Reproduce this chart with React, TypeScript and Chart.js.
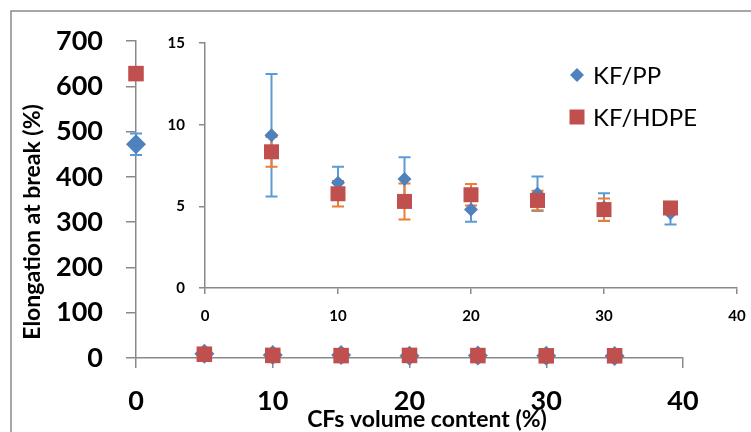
import React, { useEffect, useRef } from "react";
import { Chart, registerables } from "chart.js";

Chart.register(...registerables);

// ---- data ----
const volumeContent = [0, 5, 10, 15, 20, 25, 30, 35];
const ppElongation = [472, 9.35, 6.45, 6.68, 4.8, 5.77, 4.95, 4.58];
const ppError = [24, 3.75, 0.98, 1.32, 0.75, 1.05, 0.85, 0.69];
const hdpeElongation = [628, 8.34, 5.77, 5.3, 5.71, 5.36, 4.8, 4.9];
const hdpeError = [8, 0.91, 0.78, 1.1, 0.66, 0.6, 0.68, 0.1];

const mainXTicks = [0, 10, 20, 30, 40];
const mainYTicks = [0, 100, 200, 300, 400, 500, 600, 700];
const insetYTicks = [0, 5, 10, 15];

const seriesNames = ["KF/PP", "KF/HDPE"];

const PP_COLOR = "#4F81BD";
const HDPE_COLOR = "#C0504D";
const PP_ERR = "#5B9BD5";
const HDPE_ERR = "#ED7D31";
const AXIS = "#898989";
const FONT = "Lato";

type ErrSeries = { x: number[]; y: number[]; err: number[]; color: string };

function makeErrorPlugin(series: ErrSeries[], cap: number) {
  return {
    id: "errorBars",
    beforeDatasetsDraw(chart: any) {
      const { ctx } = chart;
      const xs = chart.scales.x;
      const ys = chart.scales.y;
      series.forEach((s) => {
        ctx.save();
        ctx.strokeStyle = s.color;
        ctx.lineWidth = 2;
        s.x.forEach((xv, i) => {
          const px = xs.getPixelForValue(xv);
          const top = ys.getPixelForValue(s.y[i] + s.err[i]);
          const bot = ys.getPixelForValue(s.y[i] - s.err[i]);
          ctx.beginPath();
          ctx.moveTo(px, top);
          ctx.lineTo(px, bot);
          ctx.moveTo(px - cap, top);
          ctx.lineTo(px + cap, top);
          ctx.moveTo(px - cap, bot);
          ctx.lineTo(px + cap, bot);
          ctx.stroke();
        });
        ctx.restore();
      });
    },
  };
}

const decorPlugin = {
  id: "decor",
  beforeDraw(chart: any) {
    const { ctx } = chart;
    ctx.save();
    ctx.strokeStyle = "#8a8a8a";
    ctx.lineWidth = 1.5;
    ctx.beginPath();
    ctx.moveTo(11, 440);
    ctx.lineTo(11, 11);
    ctx.lineTo(760, 11);
    ctx.stroke();
    ctx.restore();
  },
  afterDraw(chart: any) {
    const { ctx } = chart;
    ctx.save();
    ctx.fillStyle = "#000";
    ctx.font = `bold 23px ${FONT}`;
    ctx.textAlign = "center";
    ctx.textBaseline = "middle";
    ctx.fillText("CFs volume content (%)", 427, 420);
    ctx.translate(33, 222);
    ctx.rotate(-Math.PI / 2);
    ctx.fillText("Elongation at break (%)", 0, 0);
    ctx.restore();

    // legend
    ctx.save();
    ctx.fillStyle = PP_COLOR;
    ctx.beginPath();
    ctx.moveTo(577 - 7, 75);
    ctx.lineTo(577, 75 - 7);
    ctx.lineTo(577 + 7, 75);
    ctx.lineTo(577, 75 + 7);
    ctx.closePath();
    ctx.fill();
    ctx.fillStyle = HDPE_COLOR;
    ctx.fillRect(577 - 7.5, 117 - 7.5, 15, 15);
    ctx.fillStyle = "#000";
    ctx.font = `24px ${FONT}`;
    ctx.textAlign = "left";
    ctx.textBaseline = "middle";
    ctx.fillText(seriesNames[0], 593, 76);
    ctx.fillText(seriesNames[1], 593, 118);
    ctx.restore();
  },
};

function pts(xs: number[], ys: number[]) {
  return xs.map((x, i) => ({ x, y: ys[i] }));
}

export default function App() {
  const mainRef = useRef<HTMLCanvasElement>(null);
  const insetRef = useRef<HTMLCanvasElement>(null);

  useEffect(() => {
    document.body.style.margin = "0";
    const mainChart = new Chart(mainRef.current!, {
      type: "scatter",
      data: {
        datasets: [
          {
            label: seriesNames[1],
            data: pts(volumeContent, hdpeElongation),
            pointStyle: "rect",
            pointRadius: 11,
            backgroundColor: HDPE_COLOR,
            borderColor: HDPE_COLOR,
            borderWidth: 0,
            clip: false as any,
            order: 0,
          },
          {
            label: seriesNames[0],
            data: pts(volumeContent, ppElongation),
            pointStyle: "rectRot",
            pointRadius: 10,
            backgroundColor: PP_COLOR,
            borderColor: PP_COLOR,
            borderWidth: 0,
            clip: false as any,
            order: 1,
          },
        ],
      },
      options: {
        animation: false,
        responsive: false,
        events: [],
        layout: { padding: { top: 41, right: 68, left: 0, bottom: 0 } },
        plugins: { legend: { display: false }, tooltip: { enabled: false } },
        scales: {
          x: {
            type: "linear",
            min: 0,
            max: 40,
            afterBuildTicks: (s: any) => {
              s.ticks = mainXTicks.map((v) => ({ value: v }));
            },
            afterFit: (s: any) => {
              s.height = 74;
            },
            ticks: {
              color: "#000",
              font: { family: FONT, weight: "bold", size: 27 },
              padding: 17,
              maxRotation: 0,
            },
            grid: { drawOnChartArea: false, tickLength: 10, color: AXIS, lineWidth: 1.5 },
            border: { color: AXIS, width: 1.5 },
          },
          y: {
            min: 0,
            max: 700,
            afterBuildTicks: (s: any) => {
              s.ticks = mainYTicks.map((v) => ({ value: v }));
            },
            afterFit: (s: any) => {
              s.width = 136;
            },
            ticks: {
              color: "#000",
              font: { family: FONT, weight: "bold", size: 27 },
              padding: 23,
            },
            grid: { drawOnChartArea: false, tickLength: 10, color: AXIS, lineWidth: 1.5 },
            border: { color: AXIS, width: 1.5 },
          },
        },
      } as any,
      plugins: [
        decorPlugin,
        makeErrorPlugin(
          [
            { x: volumeContent.slice(0, 1), y: ppElongation.slice(0, 1), err: ppError.slice(0, 1), color: PP_ERR },
            { x: volumeContent.slice(0, 1), y: hdpeElongation.slice(0, 1), err: hdpeError.slice(0, 1), color: HDPE_ERR },
          ],
          6
        ),
      ],
    });

    const ix = volumeContent.slice(1);
    const insetChart = new Chart(insetRef.current!, {
      type: "scatter",
      data: {
        datasets: [
          {
            label: seriesNames[1],
            data: pts(ix, hdpeElongation.slice(1)),
            pointStyle: "rect",
            pointRadius: 10.6,
            backgroundColor: HDPE_COLOR,
            borderColor: HDPE_COLOR,
            borderWidth: 0,
            clip: false as any,
            order: 0,
          },
          {
            label: seriesNames[0],
            data: pts(ix, ppElongation.slice(1)),
            pointStyle: "rectRot",
            pointRadius: 7,
            backgroundColor: PP_COLOR,
            borderColor: PP_COLOR,
            borderWidth: 0,
            clip: false as any,
            order: 1,
          },
        ],
      },
      options: {
        animation: false,
        responsive: false,
        events: [],
        layout: { padding: { top: 22, right: 30, left: 0, bottom: 0 } },
        plugins: { legend: { display: false }, tooltip: { enabled: false } },
        scales: {
          x: {
            type: "linear",
            min: 0,
            max: 40,
            afterBuildTicks: (s: any) => {
              s.ticks = mainXTicks.map((v) => ({ value: v }));
            },
            afterFit: (s: any) => {
              s.height = 47;
            },
            ticks: {
              color: "#000",
              font: { family: FONT, weight: "bold", size: 15 },
              padding: 13,
              maxRotation: 0,
            },
            grid: { drawOnChartArea: false, tickLength: 6, color: AXIS, lineWidth: 1.5 },
            border: { color: AXIS, width: 1.5 },
          },
          y: {
            min: 0,
            max: 15,
            afterBuildTicks: (s: any) => {
              s.ticks = insetYTicks.map((v) => ({ value: v }));
            },
            afterFit: (s: any) => {
              s.width = 55;
            },
            ticks: {
              color: "#000",
              font: { family: FONT, weight: "bold", size: 15 },
              padding: 14,
            },
            grid: { drawOnChartArea: false, tickLength: 6, color: AXIS, lineWidth: 1.5 },
            border: { color: AXIS, width: 1.5 },
          },
        },
      } as any,
      plugins: [
        makeErrorPlugin(
          [
            { x: ix, y: ppElongation.slice(1), err: ppError.slice(1), color: PP_ERR },
            { x: ix, y: hdpeElongation.slice(1), err: hdpeError.slice(1), color: HDPE_ERR },
          ],
          6
        ),
      ],
    });

    return () => {
      mainChart.destroy();
      insetChart.destroy();
    };
  }, []);

  return (
    <div style={{ position: "absolute", left: 0, top: 0, width: 751, height: 432, background: "#fff", overflow: "hidden" }}>
      <canvas ref={mainRef} width={751} height={432} style={{ position: "absolute", left: 0, top: 0 }} />
      <canvas ref={insetRef} width={617} height={315} style={{ position: "absolute", left: 150, top: 20 }} />
    </div>
  );
}
